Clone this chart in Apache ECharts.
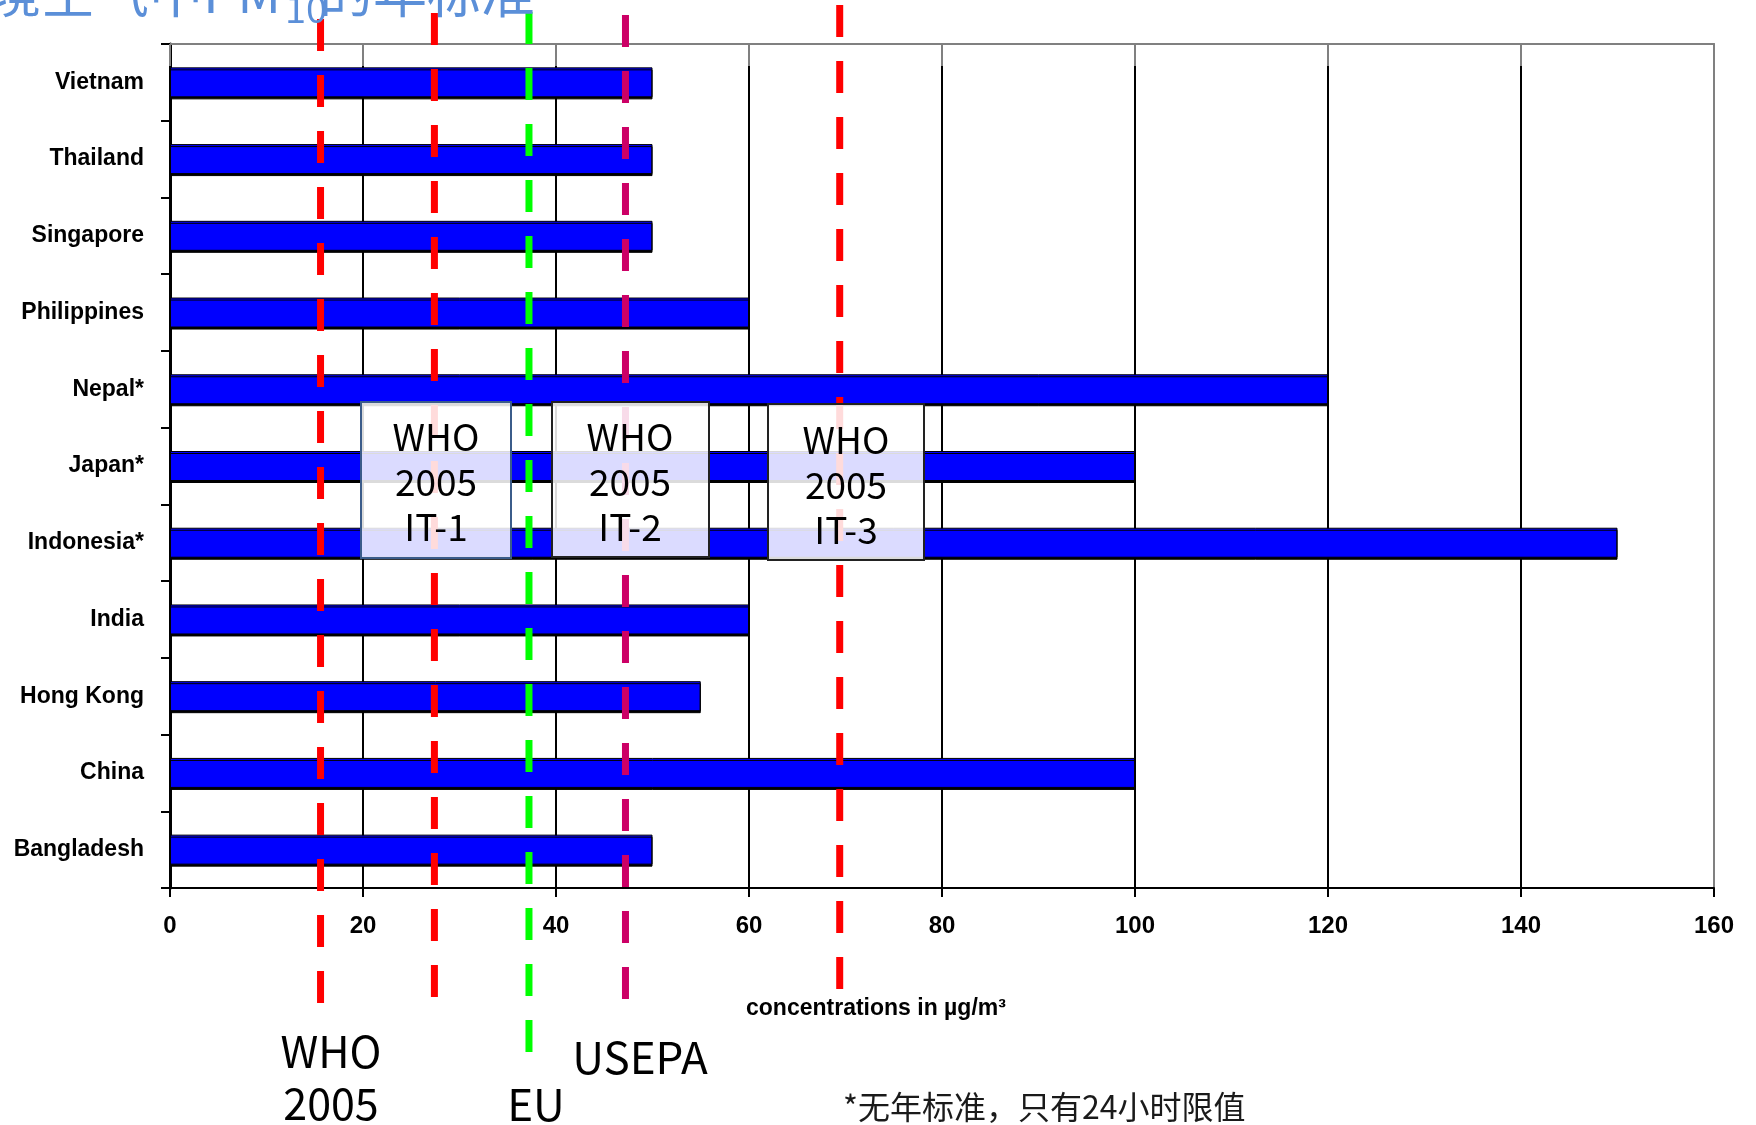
<!DOCTYPE html>
<html><head><meta charset="utf-8">
<script src="https://cdn.jsdelivr.net/npm/echarts@6/dist/echarts.min.js"></script>
<style>html,body{margin:0;padding:0;background:#fff}#c{width:1756px;height:1125px}</style>
</head><body><div id="c"></div>
<script>
// ---- data ----
const categories = ['Bangladesh','China','Hong Kong','India','Indonesia*','Japan*','Nepal*','Philippines','Singapore','Thailand','Vietnam'];
const concentrations = [50,100,55,60,150,100,120,60,50,50,50];
const xTickMin = 0, xTickMax = 160, xTickStep = 20;
const standardNames = ['WHO 2005','WHO 2005 IT-1','EU','USEPA / WHO 2005 IT-2','WHO 2005 IT-3'];
const standardValues = [15.6, 27.4, 37.2, 47.2, 69.4];
const titleMain = '环境空气中PM', titleSub = '10', titleTail = '的年标准';
const axisName = 'concentrations in µg/m³';
const footnote = '*无年标准，只有24小时限值';

// ---- layout / style ----
const standardColors = ['#FF0000','#FF0000','#00FF00','#CC0066','#FF0000'];
const lineTop = [19,13,12,15,5];
const lineBottom = [1003,998,1053,999,989];
const latin = "'Liberation Sans', Arial, sans-serif";
const cjk = "'Noto Sans CJK SC', sans-serif";
const nTicks = (xTickMax - xTickMin) / xTickStep + 1;
const gridColors = Array.from({length:nTicks}, (_, i) => i === nTicks - 1 ? '#808080' : '#000000');

const chart = echarts.init(document.getElementById('c'), null, {renderer:'canvas'});

function txt(x, y, text, font, align, extra) {
  return Object.assign({type:'text', x:x, y:y, z:30, silent:true,
    style:Object.assign({text:text, font:font, fill:'#000', align:align, textAlign:align,
      verticalAlign:'middle', textVerticalAlign:'middle'}, extra || {})});
}
function box(x, y, w, h, stroke) {
  return {type:'rect', z:25, silent:true, shape:{x:x, y:y, width:w, height:h},
    style:{fill:'rgba(255,255,255,0.86)', stroke:stroke, lineWidth:2}};
}

const boxLabels = ['WHO\n2005\nIT-1','WHO\n2005\nIT-2','WHO\n2005\nIT-3'];

const option = {
  animation:false,
  backgroundColor:'#ffffff',
  grid:[{left:170, right:42, top:44, bottom:237},
        {left:170, right:42, top:0, bottom:0}],
  xAxis:[
    {type:'value', gridIndex:0, position:'bottom', min:xTickMin, max:xTickMax, interval:xTickStep,
     axisLine:{show:true, lineStyle:{color:'#000', width:2}},
     axisTick:{show:true, length:9, lineStyle:{color:'#000', width:2}},
     axisLabel:{margin:26, color:'#000', fontFamily:latin, fontWeight:'bold', fontSize:24},
     splitLine:{show:true, lineStyle:{color:gridColors, width:2}}},
    {type:'value', gridIndex:0, position:'top', min:xTickMin, max:xTickMax, interval:xTickStep,
     axisLine:{show:true, onZero:false, lineStyle:{color:'#808080', width:2}},
     axisTick:{show:true, inside:true, length:22, lineStyle:{color:'#808080', width:2}},
     axisLabel:{show:false}, splitLine:{show:false}},
    {type:'value', gridIndex:1, min:xTickMin, max:xTickMax, show:false}
  ],
  yAxis:[
    {type:'category', gridIndex:0, position:'left', data:categories,
     axisLine:{show:true, onZero:false, lineStyle:{color:'#000', width:3}},
     axisTick:{show:true, length:9, lineStyle:{color:'#000', width:2}},
     axisLabel:{margin:26, color:'#000', fontFamily:latin, fontWeight:'bold', fontSize:23},
     splitLine:{show:false}},
    {type:'category', gridIndex:0, position:'right', data:categories,
     axisLine:{show:true, onZero:false, lineStyle:{color:'#808080', width:2}},
     axisTick:{show:false}, axisLabel:{show:false}, splitLine:{show:false}},
    {type:'value', gridIndex:1, min:0, max:1125, inverse:true, show:false}
  ],
  series:[
    {type:'bar', xAxisIndex:0, yAxisIndex:0, data:concentrations, barWidth:30, z:2,
     itemStyle:{color:'#0000FF', borderColor:'#000', borderWidth:1,
       shadowColor:'#000', shadowOffsetY:2, shadowBlur:0}}
  ].concat(standardValues.map((v, i) => ({
    type:'line', name:standardNames[i], xAxisIndex:2, yAxisIndex:2, z:5, silent:true, clip:false,
    symbol:'none', data:[[v, lineTop[i]], [v, lineBottom[i]]],
    lineStyle:{color:standardColors[i], width:7, type:[32,24], cap:'butt'}
  }))),
  graphic:[
    txt(281, -8, titleMain, '54px ' + cjk, 'right', {fill:'#5B8FD8'}),
    txt(285, 9, titleSub, '38px ' + cjk, 'left', {fill:'#5B8FD8'}),
    txt(319, -8, titleTail, '54px ' + cjk, 'left', {fill:'#5B8FD8'}),
    box(361, 402, 150, 156, '#3B5C8A'),
    box(552, 402, 157, 155, '#222222'),
    box(768, 404, 156, 156, '#222222'),
    txt(436, 482, boxLabels[0], '37px ' + cjk, 'center', {lineHeight:45}),
    txt(630, 482, boxLabels[1], '37px ' + cjk, 'center', {lineHeight:45}),
    txt(846, 485, boxLabels[2], '37px ' + cjk, 'center', {lineHeight:45}),
    txt(331, 1078, 'WHO\n2005', '43px ' + cjk, 'center', {lineHeight:52}),
    txt(536, 1104, 'EU', '44px ' + cjk, 'center'),
    txt(640, 1057, 'USEPA', '44px ' + cjk, 'center'),
    txt(746, 1009, axisName, 'bold 23px ' + latin, 'left'),
    txt(843, 1107, footnote, '32px ' + cjk, 'left', {fill:'#1a1a1a'})
  ]
};
chart.setOption(option);
</script>
</body></html>
